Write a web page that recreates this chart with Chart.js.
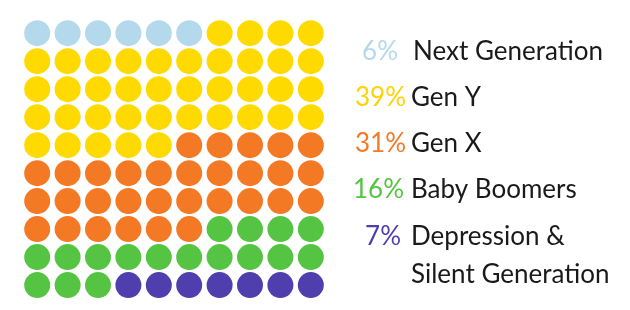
<!DOCTYPE html>
<html><head><meta charset="utf-8">
<script src="https://cdn.jsdelivr.net/npm/chart.js@4"></script>
<style>html,body{margin:0;padding:0;background:#fff;}#wrap{width:630px;height:310px;position:relative;}</style>
</head><body><div id="wrap"><canvas id="c" width="630" height="310"></canvas></div>
<script>
const categories = ['Next Generation', 'Gen Y', 'Gen X', 'Baby Boomers', 'Depression & Silent Generation'];
const labelLines = [['Next Generation'], ['Gen Y'], ['Gen X'], ['Baby Boomers'], ['Depression &', 'Silent Generation']];
const percentLabels = ['6%', '39%', '31%', '16%', '7%'];
const dotCounts = [6, 39, 31, 17, 7];
const gridColumns = 10;

const colors = ['#b5d9ec', '#ffda00', '#f47925', '#55c443', '#4f3fae'];
const pctColors = ['#b5d9ec', '#ffd200', '#f47925', '#55c443', '#4f3fae'];

let idx = 0;
const datasets = categories.map((name, i) => {
  const pts = [];
  for (let k = 0; k < dotCounts[i]; k++, idx++) {
    pts.push({ x: idx % gridColumns, y: Math.floor(idx / gridColumns) });
  }
  return {
    label: name, data: pts, backgroundColor: colors[i], borderColor: colors[i],
    borderWidth: 0, pointRadius: 13, pointHoverRadius: 13, clip: false
  };
});

const legendPlugin = {
  id: 'waffleLegend',
  afterDraw(chart) {
    const ctx = chart.ctx;
    ctx.save();
    ctx.textBaseline = 'alphabetic';
    const font = '26px Lato';
    const baselines = [60, 106, 152, 198, 245];
    const pctRight = [398, 406, 406, 404, 401];
    categories.forEach((c, i) => {
      ctx.font = font;
      ctx.fillStyle = pctColors[i];
      ctx.textAlign = 'right';
      ctx.fillText(percentLabels[i], pctRight[i], baselines[i]);
      ctx.fillStyle = '#1a1a1a';
      ctx.textAlign = 'left';
      labelLines[i].forEach((ln, j) => {
        ctx.fillText(ln, i === 0 ? 413 : 411, baselines[i] + j * 38);
      });
    });
    ctx.restore();
  }
};

new Chart(document.getElementById('c'), {
  type: 'scatter',
  data: { datasets },
  options: {
    responsive: false, animation: false,
    events: [],
    layout: { padding: { left: 22, right: 304, top: 0, bottom: 0 } },
    plugins: { legend: { display: false }, tooltip: { enabled: false } },
    scales: {
      x: { display: false, min: -0.5, max: 9.5 },
      y: { display: false, reverse: true, min: -0.72, max: 9.425 }
    }
  },
  plugins: [legendPlugin]
});
</script></body></html>
